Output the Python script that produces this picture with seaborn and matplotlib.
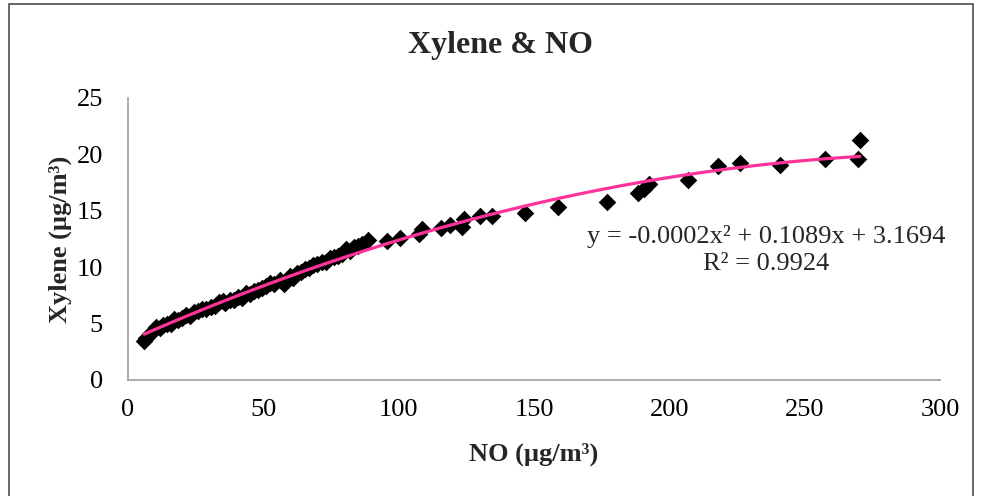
import numpy as np
import pandas as pd
import matplotlib
matplotlib.use("Agg")
import matplotlib.pyplot as plt
import seaborn as sns
from matplotlib.patches import Rectangle

# ---------------- data ----------------
no_values = [
    6.0, 6.8, 8.0, 9.5, 10.5, 12.0, 13.0, 14.5, 16.0, 17.0, 18.5, 20.0,
    21.5, 23.0, 24.5, 26.0, 27.5, 29.0, 30.5, 32.0, 33.5, 35.0, 36.0, 37.5,
    39.0, 40.5, 42.0, 43.5, 45.0, 46.5, 48.0, 49.5, 51.0, 52.5, 54.0, 56.0,
    57.5, 58.5, 60.0, 61.0, 62.5, 64.0, 65.5, 67.0, 68.5, 70.0, 71.5, 73.0,
    74.5, 76.0, 77.5, 79.0, 80.5, 82.0, 83.5, 85.0, 86.5, 88.8,
    95.6, 100.5, 107.5, 108.5, 115.5, 119.0, 123.3, 124.0, 130.0, 134.3,
    146.7, 159.0, 176.8, 188.5, 190.5, 192.5, 207.0, 218.0, 226.0, 240.8,
    257.5, 269.8, 270.4,
]
xylene_values = [
    3.5, 3.7, 4.1, 4.4, 4.7, 4.6, 4.9, 5.0, 5.0, 5.4, 5.3, 5.5,
    5.8, 5.7, 6.0, 6.1, 6.3, 6.3, 6.5, 6.6, 6.9, 7.0, 6.8, 7.1,
    7.1, 7.4, 7.3, 7.7, 7.6, 7.9, 8.0, 8.2, 8.3, 8.6, 8.5, 8.9,
    8.5, 8.8, 9.2, 9.0, 9.5, 9.6, 9.8, 9.9, 10.2, 10.3, 10.5, 10.5,
    10.8, 10.9, 11.0, 11.2, 11.6, 11.4, 11.8, 11.9, 12.1, 12.4,
    12.3, 12.6, 12.9, 13.4, 13.5, 13.7, 13.6, 14.3, 14.5, 14.5,
    14.8, 15.3, 15.8, 16.6, 16.9, 17.4, 17.7, 19.0, 19.2, 19.1,
    19.6, 19.6, 21.3,
]
x_ticks = [0, 50, 100, 150, 200, 250, 300]
y_ticks = [0, 5, 10, 15, 20, 25]
chart_title = "Xylene & NO"
x_label = "NO (µg/m³)"
y_label = "Xylene (µg/m³)"
equation_text = "y = -0.0002x² + 0.1089x + 3.1694\nR² = 0.9924"

# ---------------- style ----------------
sns.set_style("white")
plt.rcParams["font.family"] = ["Liberation Serif", "DejaVu Serif"]

W, H = 982, 496
fig = plt.figure(figsize=(W / 100, H / 100), dpi=100)
fig.patch.set_facecolor("white")

# chart outer border
fig.patches.append(Rectangle((9 / W, -0.05), (973 - 9) / W, 1.05 - 4 / H,
                             transform=fig.transFigure, fill=False,
                             edgecolor="#4d4d4d", linewidth=1.2, zorder=0))

ax = fig.add_axes([128 / W, 1 - 380 / H, (940 - 128) / W, (380 - 98) / H])

df = pd.DataFrame({"NO": no_values, "Xylene": xylene_values})
sns.regplot(data=df, x="NO", y="Xylene", order=2, ci=None, ax=ax,
            marker="D", color="black",
            scatter_kws=dict(s=80, linewidths=0, alpha=1),
            line_kws=dict(color="#FF3399", linewidth=2.3))

ax.set_xlim(0, 300)
ax.set_ylim(0, 25)
ax.set_xticks(x_ticks)
ax.set_yticks(y_ticks)
ax.tick_params(axis="both", length=0, labelsize=19, colors="black")
ax.tick_params(axis="x", pad=14)
ax.tick_params(axis="y", pad=18)

for side in ["top", "right"]:
    ax.spines[side].set_visible(False)
for side in ["left", "bottom"]:
    ax.spines[side].set_color("#A6A6A6")
    ax.spines[side].set_linewidth(1.3)
ax.grid(False)

ax.set_xlabel(x_label, fontsize=19, fontweight="bold", labelpad=15)
ax.set_ylabel(y_label, fontsize=19, fontweight="bold", labelpad=3)

fig.text(500 / W, 1 - 46 / H, chart_title, fontsize=23, fontweight="bold",
         ha="center", va="center")

fig.text(766 / W, 1 - 250 / H, equation_text, fontsize=19,
         ha="center", va="center", linespacing=1.35)

fig.savefig("out.png", dpi=100)
